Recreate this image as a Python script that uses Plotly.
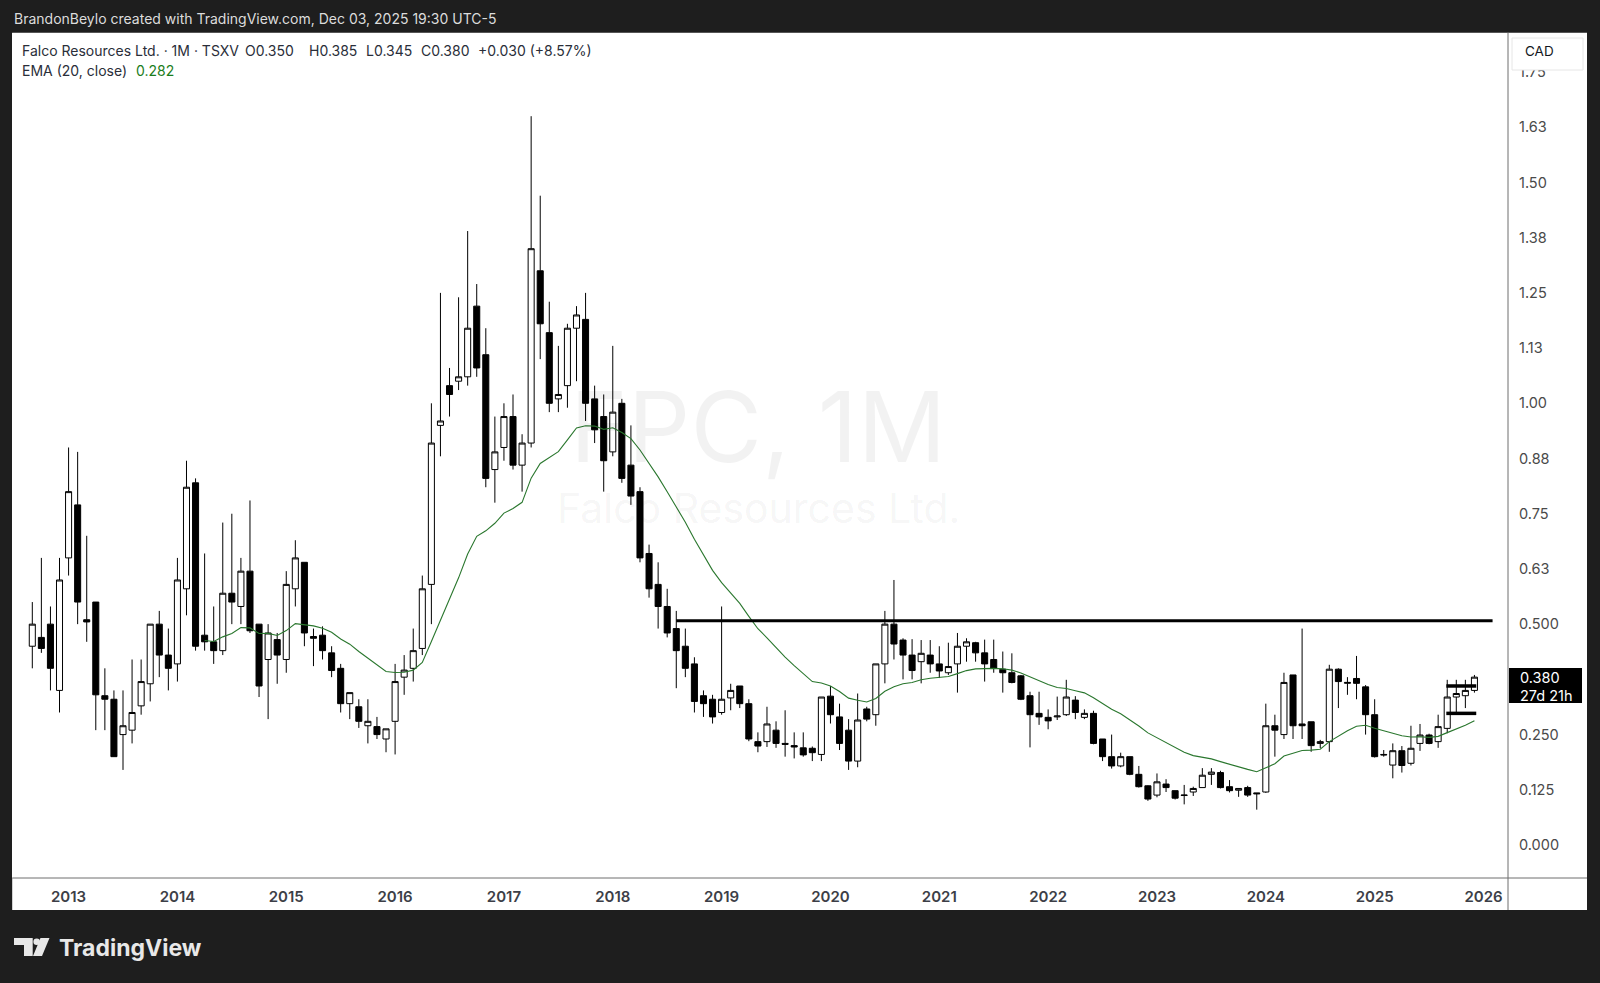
import plotly.graph_objects as go

# ---------------- data (monthly candles, Sep 2012 .. Dec 2025) ----------------
opens = [0.45, 0.47, 0.50, 0.35, 0.65, 0.77, 0.51, 0.55, 0.338, 0.33, 0.25, 0.26, 0.315, 0.365, 0.50, 0.43,
         0.41, 0.58, 0.82, 0.475, 0.46, 0.44, 0.57, 0.54, 0.62, 0.50, 0.42, 0.465,
         0.42, 0.58, 0.64, 0.472, 0.475, 0.435, 0.40, 0.32, 0.313, 0.27, 0.268, 0.24,
         0.28, 0.38, 0.40, 0.445, 0.59, 0.95, 1.04, 1.05, 1.06, 1.22, 1.11, 0.85,
         0.90, 0.97, 0.86, 0.91, 1.30, 1.16, 1.01, 1.04, 1.17, 1.19, 1.01, 0.97,
         0.89, 1.00, 0.86, 0.80, 0.66, 0.59, 0.54, 0.49, 0.45, 0.41, 0.338, 0.33,
         0.30, 0.333, 0.36, 0.32, 0.234, 0.234, 0.26, 0.23, 0.225, 0.22, 0.219, 0.205,
         0.337, 0.29, 0.26, 0.19, 0.308, 0.295, 0.41, 0.50, 0.464, 0.43, 0.415, 0.43,
         0.41, 0.39, 0.41, 0.45, 0.458, 0.435, 0.42, 0.398, 0.39, 0.383, 0.338, 0.298,
         0.289, 0.29, 0.295, 0.328, 0.289, 0.298, 0.24, 0.20, 0.179, 0.20, 0.16, 0.134,
         0.113, 0.138, 0.123, 0.112, 0.12, 0.13, 0.16, 0.164, 0.132, 0.124, 0.13, 0.118,
         0.12, 0.27, 0.25, 0.385, 0.274, 0.279, 0.23, 0.234, 0.398, 0.366, 0.377, 0.358,
         0.295, 0.205, 0.181, 0.2135, 0.185, 0.23, 0.249, 0.234, 0.264, 0.335, 0.338, 0.35]
highs = [0.55, 0.65, 0.54, 0.65, 0.90, 0.89, 0.70, 0.55, 0.40, 0.35, 0.35, 0.42, 0.42, 0.50, 0.53, 0.49,
         0.65, 0.87, 0.83, 0.66, 0.54, 0.73, 0.75, 0.65, 0.78, 0.50, 0.50, 0.48,
         0.62, 0.69, 0.64, 0.49, 0.495, 0.45, 0.41, 0.345, 0.33, 0.33, 0.29, 0.263,
         0.41, 0.43, 0.49, 0.61, 1.00, 1.25, 1.08, 1.24, 1.39, 1.27, 1.17, 0.97,
         1.00, 1.02, 0.93, 1.65, 1.47, 1.23, 1.13, 1.18, 1.22, 1.25, 1.04, 1.02,
         1.13, 1.01, 0.95, 0.81, 0.68, 0.64, 0.58, 0.53, 0.49, 0.425, 0.35, 0.34,
         0.54, 0.365, 0.36, 0.33, 0.255, 0.313, 0.28, 0.305, 0.255, 0.255, 0.223, 0.335,
         0.36, 0.32, 0.285, 0.343, 0.313, 0.41, 0.53, 0.60, 0.468, 0.466, 0.464, 0.464,
         0.45, 0.458, 0.48, 0.468, 0.46, 0.465, 0.465, 0.438, 0.434, 0.385, 0.347, 0.347,
         0.307, 0.336, 0.374, 0.337, 0.307, 0.304, 0.24, 0.25, 0.209, 0.20, 0.179, 0.135,
         0.162, 0.149, 0.123, 0.136, 0.132, 0.174, 0.174, 0.168, 0.147, 0.128, 0.134, 0.118,
         0.32, 0.295, 0.39, 0.385, 0.49, 0.279, 0.238, 0.408, 0.40, 0.38, 0.428, 0.362,
         0.33, 0.215, 0.23, 0.224, 0.27, 0.274, 0.252, 0.295, 0.374, 0.374, 0.374, 0.385]
lows = [0.40, 0.435, 0.35, 0.30, 0.61, 0.50, 0.46, 0.26, 0.26, 0.20, 0.17, 0.23, 0.295, 0.325, 0.38, 0.35,
        0.37, 0.52, 0.44, 0.44, 0.41, 0.43, 0.50, 0.50, 0.48, 0.335, 0.285, 0.365,
        0.39, 0.54, 0.45, 0.405, 0.42, 0.38, 0.30, 0.285, 0.265, 0.23, 0.24, 0.21,
        0.205, 0.34, 0.37, 0.43, 0.50, 0.88, 0.97, 1.03, 1.04, 1.06, 0.81, 0.775,
        0.87, 0.85, 0.80, 0.90, 1.10, 0.98, 0.98, 0.99, 1.05, 0.96, 0.91, 0.80,
        0.88, 0.82, 0.77, 0.64, 0.56, 0.49, 0.47, 0.355, 0.38, 0.30, 0.29, 0.275,
        0.295, 0.305, 0.31, 0.235, 0.21, 0.222, 0.22, 0.20, 0.196, 0.20, 0.19, 0.19,
        0.275, 0.215, 0.17, 0.176, 0.28, 0.27, 0.366, 0.42, 0.375, 0.375, 0.366, 0.39,
        0.378, 0.385, 0.345, 0.415, 0.415, 0.37, 0.39, 0.345, 0.366, 0.328, 0.221, 0.272,
        0.262, 0.283, 0.292, 0.285, 0.285, 0.228, 0.19, 0.173, 0.176, 0.158, 0.13, 0.10,
        0.108, 0.12, 0.103, 0.092, 0.111, 0.13, 0.136, 0.128, 0.119, 0.109, 0.109, 0.08,
        0.118, 0.20, 0.24, 0.24, 0.24, 0.211, 0.219, 0.211, 0.31, 0.34, 0.33, 0.25,
        0.198, 0.20, 0.151, 0.164, 0.18, 0.213, 0.228, 0.22, 0.253, 0.30, 0.31, 0.345]
closes = [0.50, 0.445, 0.40, 0.60, 0.80, 0.55, 0.505, 0.34, 0.33, 0.20, 0.27, 0.30, 0.37, 0.50, 0.43, 0.40,
          0.60, 0.81, 0.45, 0.46, 0.44, 0.57, 0.55, 0.62, 0.485, 0.36, 0.48, 0.43,
          0.59, 0.65, 0.48, 0.468, 0.44, 0.395, 0.32, 0.345, 0.28, 0.28, 0.25, 0.263,
          0.37, 0.396, 0.44, 0.58, 0.91, 0.96, 1.02, 1.06, 1.17, 1.08, 0.83, 0.89,
          0.97, 0.86, 0.91, 1.35, 1.18, 1.00, 1.02, 1.17, 1.20, 1.00, 0.94, 0.87,
          0.98, 0.83, 0.79, 0.65, 0.58, 0.54, 0.48, 0.44, 0.40, 0.325, 0.32, 0.29,
          0.33, 0.35, 0.32, 0.24, 0.224, 0.274, 0.23, 0.228, 0.222, 0.204, 0.209, 0.335,
          0.295, 0.23, 0.19, 0.283, 0.285, 0.41, 0.50, 0.455, 0.43, 0.395, 0.434, 0.41,
          0.394, 0.404, 0.45, 0.46, 0.435, 0.41, 0.40, 0.39, 0.368, 0.33, 0.295, 0.29,
          0.281, 0.292, 0.335, 0.30, 0.298, 0.23, 0.20, 0.179, 0.20, 0.16, 0.132, 0.104,
          0.143, 0.13, 0.106, 0.113, 0.128, 0.158, 0.165, 0.13, 0.123, 0.128, 0.113, 0.116,
          0.27, 0.26, 0.368, 0.27, 0.27, 0.225, 0.234, 0.398, 0.37, 0.368, 0.366, 0.295,
          0.20, 0.204, 0.2135, 0.18, 0.219, 0.249, 0.23, 0.268, 0.335, 0.343, 0.350, 0.38]

first_year = 2012
first_month = 9  # September
year_labels = [str(y) for y in range(2013, 2027)]
price_ticks = [0.0, 0.125, 0.25, 0.5, 0.625, 0.75, 0.875, 1.0, 1.125, 1.25, 1.375, 1.5, 1.625, 1.75]
price_tick_text = ["0.000", "0.125", "0.250", "0.500", "0.63", "0.75", "0.88", "1.00", "1.13",
                   "1.25", "1.38", "1.50", "1.63", "1.75"]

ema_length = 20
# user drawn horizontal lines: (start bar, end bar, price)
resistance_line = (71, 161.0, 0.5075)
short_lines = [(155.9, 159.2, 0.36), (155.9, 159.2, 0.298)]

# ---------------- derived ----------------
n = len(closes)
bars = list(range(n))
alpha = 2.0 / (ema_length + 1)
ema = [None] * n
seed = sum(closes[:ema_length]) / ema_length
ema[ema_length - 1] = seed
for i in range(ema_length, n):
    ema[i] = alpha * closes[i] + (1 - alpha) * ema[i - 1]

jan_bars = [(12 - first_month + 1) + 12 * k for k in range(len(year_labels))]

# ---------------- figure ----------------
W_FIG, H_FIG = 1600, 983
L, R, T, B = 12, 92, 33, 105
PW, PH = W_FIG - L - R, H_FIG - T - B


def px(x):
    return (x - L) / PW


def py(y):
    return (H_FIG - B - y) / PH


fig = go.Figure()

fig.add_trace(go.Candlestick(
    x=bars, open=opens, high=highs, low=lows, close=closes,
    increasing=dict(line=dict(color="#000000", width=1), fillcolor="#ffffff"),
    decreasing=dict(line=dict(color="#000000", width=1), fillcolor="#000000"),
    whiskerwidth=0, hoverinfo="skip", showlegend=False,
))

fig.add_trace(go.Scatter(
    x=bars, y=ema, mode="lines", line=dict(color="#2a772e", width=1.1),
    hoverinfo="skip", showlegend=False,
))

fig.add_trace(go.Scatter(
    x=[resistance_line[0], resistance_line[1]], y=[resistance_line[2]] * 2,
    mode="lines", line=dict(color="#000000", width=3), hoverinfo="skip", showlegend=False,
))
for (a, b, p) in short_lines:
    fig.add_trace(go.Scatter(
        x=[a, b], y=[p, p], mode="lines", line=dict(color="#000000", width=3.5),
        hoverinfo="skip", showlegend=False,
    ))

FONT = "Inter, Roboto, Arial, sans-serif"

shapes = [
    # white chart panel
    dict(type="rect", xref="paper", yref="paper", x0=px(12.2), x1=px(1587), y0=py(910), y1=py(32.7),
         fillcolor="#ffffff", line=dict(width=0), layer="below"),
    # price-scale separator
    dict(type="line", xref="paper", yref="paper", x0=px(1508), x1=px(1508), y0=py(910), y1=py(32.7),
         line=dict(color="#6f6f6f", width=1), layer="above"),
    # time-scale separator
    dict(type="line", xref="paper", yref="paper", x0=px(12.2), x1=px(1587), y0=py(878), y1=py(878),
         line=dict(color="#6f6f6f", width=1), layer="above"),
    # CAD box
    dict(type="rect", xref="paper", yref="paper", x0=px(1512), x1=px(1583), y0=py(70), y1=py(38),
         fillcolor="#ffffff", line=dict(color="#e6e6e6", width=1), layer="above"),
    # last price label
    dict(type="rect", xref="paper", yref="paper", x0=px(1509), x1=px(1582), y0=py(703), y1=py(668),
         fillcolor="#000000", line=dict(width=0), layer="above"),
    # TradingView logo: T part
    dict(type="path", xref="paper", yref="paper",
         path=f"M {px(14)},{py(938)} L {px(32.7)},{py(938)} L {px(32.7)},{py(956)} L {px(24)},{py(956)} "
              f"L {px(24)},{py(945)} L {px(14)},{py(945)} Z",
         fillcolor="#e8e8e8", line=dict(width=0), layer="above"),
    dict(type="circle", xref="paper", yref="paper", x0=px(33.4), x1=px(40), y0=py(945), y1=py(938.4),
         fillcolor="#e8e8e8", line=dict(width=0), layer="above"),
    dict(type="path", xref="paper", yref="paper",
         path=f"M {px(40.5)},{py(938)} L {px(49.5)},{py(938)} L {px(42)},{py(956)} L {px(33)},{py(956)} Z",
         fillcolor="#e8e8e8", line=dict(width=0), layer="above"),
]

ann = []


def add_text(x, y, text, size, color, xanchor="left", weight="normal", family=FONT):
    ann.append(dict(xref="paper", yref="paper", x=px(x), y=py(y), text=text, showarrow=False,
                    xanchor=xanchor, yanchor="middle",
                    font=dict(family=family, size=size, color=color, weight=weight)))


# watermark
add_text(758, 426, "FPC, 1M", 98, "rgba(0,0,0,0.05)", xanchor="center")
add_text(758, 508, "Falco Resources Ltd.", 41, "rgba(0,0,0,0.05)", xanchor="center")

# top bar
add_text(12, 18.5, "BrandonBeylo created with TradingView.com, Dec 03, 2025 19:30 UTC-5", 14, "#dcdcdc")
# legend lines
hdr = "#2a2e39"
add_text(20, 50, "Falco Resources Ltd. · 1M · TSXV", 14, hdr)
add_text(243, 50, f"O{opens[-1]:.3f}", 14, hdr)
add_text(307, 50, f"H{highs[-1]:.3f}", 14, hdr)
add_text(364, 50, f"L{lows[-1]:.3f}", 14, hdr)
add_text(419, 50, f"C{closes[-1]:.3f}", 14, hdr)
chg = closes[-1] - closes[-2]
add_text(476, 50, f"+{chg:.3f} (+{chg / closes[-2] * 100:.2f}%)", 14, hdr)
add_text(20, 70.5, "EMA (20, close)", 14, hdr)
add_text(134, 70.5, f"{ema[-1]:.3f}", 14, "#1b7d1b")

# CAD label and last price label
add_text(1523, 51.5, "CAD", 13.5, "#131722")
add_text(1518, 677.5, f"{closes[-1]:.3f}", 14.5, "#ffffff")
add_text(1518, 695, "27d 21h", 14.5, "#ffffff")

# TradingView logo text
add_text(57, 947.5, "TradingView", 23, "#e8e8e8", weight="bold")

fig.update_layout(
    width=W_FIG, height=H_FIG,
    margin=dict(l=L, r=R, t=T, b=B, pad=0),
    paper_bgcolor="#1e1e1e", plot_bgcolor="#ffffff",
    shapes=shapes, annotations=ann,
    showlegend=False,
    boxgap=0.05, boxgroupgap=0.3,
    hovermode=False,
)

x_lo = (L - 32.3) / 9.07
x_hi = (L + PW - 32.3) / 9.07
fig.update_xaxes(
    range=[x_lo, x_hi], rangeslider=dict(visible=False),
    tickmode="array", tickvals=jan_bars, ticktext=year_labels,
    showgrid=False, zeroline=False, showline=False, ticks="",
    tickfont=dict(family=FONT, size=15, color="#3d3f47", weight=600),
    ticklabelstandoff=8,
)
y_lo = (845 - (H_FIG - B)) / 441.7
y_hi = (845 - T) / 441.7
fig.update_yaxes(
    range=[y_lo, y_hi], side="right",
    tickmode="array", tickvals=price_ticks, ticktext=price_tick_text,
    showgrid=False, zeroline=False, showline=False, ticks="",
    tickfont=dict(family=FONT, size=14.5, color="#4a4a4a"),
    ticklabelstandoff=10,
)

fig.write_html(
    "out.html",
    config={"displayModeBar": False, "staticPlot": True},
    post_script="document.body.style.margin='0';document.body.style.padding='0';"
                "document.body.style.background='#1e1e1e';document.body.style.overflow='hidden';",
)
